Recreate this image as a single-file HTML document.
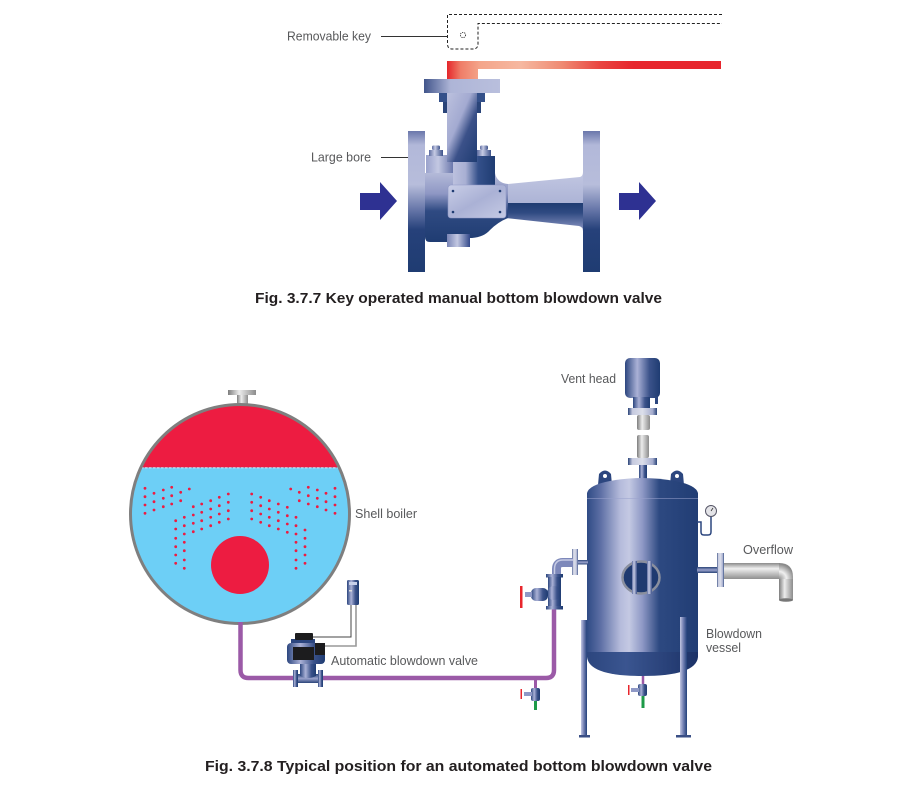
<!DOCTYPE html>
<html><head><meta charset="utf-8">
<style>
html,body{margin:0;padding:0;background:#fff;}
svg{display:block;}
text{font-family:"Liberation Sans",Arial,sans-serif;}
</style></head><body>
<svg width="900" height="787" viewBox="0 0 900 787" xmlns="http://www.w3.org/2000/svg">
<defs>
<linearGradient id="gRed" gradientUnits="userSpaceOnUse" x1="447" y1="0" x2="721" y2="0">
<stop offset="0" stop-color="#e5262b"/><stop offset="0.05" stop-color="#ef7d68"/><stop offset="0.12" stop-color="#f4a58a"/><stop offset="0.27" stop-color="#f6b8a0"/><stop offset="0.42" stop-color="#ef8a72"/><stop offset="0.56" stop-color="#e94440"/><stop offset="0.68" stop-color="#e7262d"/><stop offset="1" stop-color="#e7262d"/>
</linearGradient>
<linearGradient id="gFlange" x1="0" y1="0" x2="0" y2="1">
<stop offset="0" stop-color="#6a77ab"/><stop offset="0.1" stop-color="#b2b8d9"/><stop offset="0.38" stop-color="#b7bddb"/><stop offset="0.55" stop-color="#6a79ab"/><stop offset="0.7" stop-color="#26417a"/><stop offset="1" stop-color="#1f3c72"/>
</linearGradient>
<linearGradient id="gPlateTop" x1="0" y1="0" x2="1" y2="0"><stop offset="0" stop-color="#41558b"/><stop offset="0.35" stop-color="#aeb5d7"/><stop offset="1" stop-color="#b9bfdd"/></linearGradient>
<linearGradient id="gStem" x1="0" y1="0" x2="1" y2="1"><stop offset="0" stop-color="#bcc1de"/><stop offset="0.4" stop-color="#a3aad1"/><stop offset="0.62" stop-color="#3b5189"/><stop offset="1" stop-color="#1f3c72"/></linearGradient>
<linearGradient id="gBonL" x1="0" y1="0" x2="1" y2="0"><stop offset="0" stop-color="#9aa2cc"/><stop offset="0.45" stop-color="#c3c8e2"/><stop offset="1" stop-color="#6b78ac"/></linearGradient>
<linearGradient id="gBonC" x1="0" y1="0" x2="1" y2="0"><stop offset="0" stop-color="#bcc1de"/><stop offset="0.3" stop-color="#a8afd3"/><stop offset="0.6" stop-color="#34508a"/><stop offset="1" stop-color="#1f3c72"/></linearGradient>
<linearGradient id="gBolt" x1="0" y1="0" x2="1" y2="0"><stop offset="0" stop-color="#5d6ca0"/><stop offset="0.4" stop-color="#c6cbe4"/><stop offset="1" stop-color="#3d528a"/></linearGradient>
<linearGradient id="gPlate" x1="0" y1="0" x2="1" y2="1"><stop offset="0" stop-color="#c9cee7"/><stop offset="0.5" stop-color="#aab1d5"/><stop offset="1" stop-color="#c5cae4"/></linearGradient>
<linearGradient id="gBodyV" gradientUnits="userSpaceOnUse" x1="0" y1="173" x2="0" y2="242"><stop offset="0" stop-color="#b4bad9"/><stop offset="0.3" stop-color="#8e97c4"/><stop offset="0.55" stop-color="#2f4a82"/><stop offset="1" stop-color="#1f3c72"/></linearGradient>
<linearGradient id="gOutUp" x1="0" y1="0" x2="0" y2="1"><stop offset="0" stop-color="#c2c7e2"/><stop offset="1" stop-color="#adb4d6"/></linearGradient>
<linearGradient id="gOutLo" x1="0" y1="0" x2="0" y2="1"><stop offset="0" stop-color="#1f3c72"/><stop offset="0.35" stop-color="#2f4a82"/><stop offset="1" stop-color="#8f98c5"/></linearGradient>
<linearGradient id="gBoss" x1="0" y1="0" x2="1" y2="0"><stop offset="0" stop-color="#7884b5"/><stop offset="0.45" stop-color="#c3c8e2"/><stop offset="1" stop-color="#32488a"/></linearGradient>

<linearGradient id="gGrayH" x1="0" y1="0" x2="1" y2="0"><stop offset="0" stop-color="#7d7d7d"/><stop offset="0.4" stop-color="#ececec"/><stop offset="1" stop-color="#8c8c8c"/></linearGradient>
<linearGradient id="gGrayV" x1="0" y1="0" x2="0" y2="1"><stop offset="0" stop-color="#8a8a8a"/><stop offset="0.35" stop-color="#f0f0f0"/><stop offset="1" stop-color="#8f8f8f"/></linearGradient>
<radialGradient id="gGrayR" gradientUnits="userSpaceOnUse" cx="779" cy="579" r="15"><stop offset="0" stop-color="#8f8f8f"/><stop offset="0.5" stop-color="#f0f0f0"/><stop offset="1" stop-color="#8a8a8a"/></radialGradient>
<linearGradient id="gVessel" gradientUnits="userSpaceOnUse" x1="587" y1="0" x2="698" y2="0">
<stop offset="0" stop-color="#2f4b85"/><stop offset="0.12" stop-color="#5c6ea4"/><stop offset="0.3" stop-color="#b5bbdb"/><stop offset="0.38" stop-color="#c4c9e3"/><stop offset="0.5" stop-color="#8e98c5"/><stop offset="0.65" stop-color="#2d4981"/><stop offset="1" stop-color="#213d74"/>
</linearGradient>
<linearGradient id="gNavyH" x1="0" y1="0" x2="1" y2="0"><stop offset="0" stop-color="#2c467f"/><stop offset="0.35" stop-color="#aab1d6"/><stop offset="0.7" stop-color="#3b528a"/><stop offset="1" stop-color="#1f3c72"/></linearGradient>
<linearGradient id="gFlg2" x1="0" y1="0" x2="1" y2="0"><stop offset="0" stop-color="#2a4478"/><stop offset="0.15" stop-color="#c5c9df"/><stop offset="0.5" stop-color="#dcdfea"/><stop offset="0.85" stop-color="#a5acce"/><stop offset="1" stop-color="#2a4478"/></linearGradient>
<linearGradient id="gFlgV" x1="0" y1="0" x2="0" y2="1"><stop offset="0" stop-color="#2a4478"/><stop offset="0.2" stop-color="#c5c9df"/><stop offset="0.5" stop-color="#dcdfea"/><stop offset="0.8" stop-color="#a5acce"/><stop offset="1" stop-color="#2a4478"/></linearGradient>
<linearGradient id="gNavyV" x1="0" y1="0" x2="0" y2="1"><stop offset="0" stop-color="#2a4478"/><stop offset="0.5" stop-color="#9aa2cc"/><stop offset="1" stop-color="#2a4478"/></linearGradient>
<linearGradient id="gLeg" x1="0" y1="0" x2="1" y2="0"><stop offset="0" stop-color="#c2c7e2"/><stop offset="0.45" stop-color="#7683b5"/><stop offset="1" stop-color="#22407a"/></linearGradient>
<linearGradient id="gHead" x1="0" y1="0" x2="1" y2="0"><stop offset="0" stop-color="#2c467e"/><stop offset="0.35" stop-color="#3a5590"/><stop offset="1" stop-color="#1c3267"/></linearGradient>
<clipPath id="cBoil"><circle cx="240" cy="514" r="109.5"/></clipPath>
</defs>
<rect width="900" height="787" fill="#fff"/>

<!-- ===== Fig 3.7.7 ===== -->
<path d="M722,14.5 H447.5 V44 Q447.5,49 452.5,49 H473 Q478,49 478,44 V23.5 H722" fill="none" stroke="#222" stroke-width="1" stroke-dasharray="3 2"/>
<circle cx="463" cy="35" r="2.6" fill="none" stroke="#333" stroke-width="0.9" stroke-dasharray="1.2 1"/>
<line x1="381" y1="36.5" x2="447" y2="36.5" stroke="#333" stroke-width="1"/>
<text x="287" y="40.5" font-size="12.5" fill="#58595b" textLength="84" lengthAdjust="spacingAndGlyphs">Removable key</text>

<path d="M447,61 H721 V69 H478 V80 H447 Z" fill="url(#gRed)"/>

<!-- valve body -->
<path d="M500,185 L508,184 L580,177 Q583,176 583,172 L583,203 L500,203 Z" fill="url(#gOutUp)"/>
<path d="M500,203 L583,203 L583,231 Q583,227 579,226 L506,218 L500,218 Z" fill="url(#gOutLo)"/>
<path d="M425,173 L495,173 Q497,183 508,184 L508,218 Q498,222 490,230 Q484,237 472,238 L470,238 L470,242 L430,242 Q425,242 425,237 Z" fill="url(#gBodyV)"/>
<rect x="447" y="234" width="23" height="13" fill="url(#gBoss)"/>
<rect x="426" y="155" width="27" height="18" fill="url(#gBonL)"/>
<rect x="453" y="156" width="42" height="29" fill="url(#gBonC)"/>
<rect x="439" y="93" width="8" height="9" fill="#34508a"/>
<rect x="477" y="93" width="8" height="9" fill="#34508a"/>
<rect x="443" y="102" width="4" height="11" fill="#2a4479"/>
<rect x="477" y="102" width="4" height="11" fill="#2a4479"/>
<rect x="447" y="93" width="30" height="69" fill="url(#gStem)"/>
<rect x="424" y="79" width="76" height="14" fill="url(#gPlateTop)"/>
<rect x="432" y="145.5" width="8" height="4.5" rx="1.5" fill="url(#gBolt)"/>
<rect x="429" y="150" width="14" height="6" fill="url(#gBolt)"/>
<rect x="480" y="145.5" width="8" height="4.5" rx="1.5" fill="url(#gBolt)"/>
<rect x="477" y="150" width="14" height="6" fill="url(#gBolt)"/>
<rect x="448" y="185" width="58" height="33" rx="3" fill="url(#gPlate)" stroke="#8f98c5" stroke-width="0.6"/>
<g fill="#1f3c72"><circle cx="453" cy="191" r="1.3"/><circle cx="500" cy="191" r="1.3"/><circle cx="453" cy="212" r="1.3"/><circle cx="500" cy="212" r="1.3"/></g>
<rect x="408" y="131" width="17" height="141" fill="url(#gFlange)"/>
<rect x="583" y="131" width="17" height="141" fill="url(#gFlange)"/>

<line x1="381" y1="157.5" x2="408" y2="157.5" stroke="#333" stroke-width="1"/>
<text x="311" y="161.5" font-size="12.5" fill="#58595b" textLength="60" lengthAdjust="spacingAndGlyphs">Large bore</text>

<polygon points="360,193 380,193 380,182 397,201 380,220 380,210 360,210" fill="#2e3192"/>
<polygon points="619,193 639,193 639,182 656,201 639,220 639,210 619,210" fill="#2e3192"/>

<text x="255" y="303" font-size="15" font-weight="bold" fill="#231f20" textLength="407" lengthAdjust="spacingAndGlyphs">Fig. 3.7.7 Key operated manual bottom blowdown valve</text>

<!-- ===== Fig 3.7.8 ===== -->
<!-- boiler -->
<rect x="237" y="395" width="11" height="11" fill="url(#gGrayH)"/>
<rect x="228" y="390" width="28" height="5" fill="url(#gGrayH)"/>
<circle cx="240" cy="514" r="109.5" fill="#6dcff6"/>
<rect x="120" y="395" width="240" height="72.5" fill="#ed1c41" clip-path="url(#cBoil)"/>
<line x1="141" y1="467.8" x2="339" y2="467.8" stroke="#c4ebfb" stroke-width="1.2" stroke-dasharray="2.5 1.5"/>
<circle cx="240" cy="565" r="29" fill="#ed1c41"/>
<g fill="#ed1c41">
<circle cx="145" cy="488.3" r="1.4"/><circle cx="145" cy="496.7" r="1.4"/><circle cx="145" cy="505" r="1.4"/><circle cx="145" cy="513.3" r="1.4"/>
<circle cx="154" cy="493.3" r="1.4"/><circle cx="154" cy="501.7" r="1.4"/><circle cx="154" cy="510" r="1.4"/>
<circle cx="163.3" cy="490" r="1.4"/><circle cx="163.3" cy="498.3" r="1.4"/><circle cx="163.3" cy="506.7" r="1.4"/>
<circle cx="171.7" cy="487.3" r="1.4"/><circle cx="171.7" cy="495.7" r="1.4"/><circle cx="171.7" cy="504" r="1.4"/>
<circle cx="180.7" cy="492.3" r="1.4"/><circle cx="180.7" cy="500.7" r="1.4"/>
<circle cx="189.3" cy="489" r="1.4"/>
<circle cx="175.7" cy="520.7" r="1.4"/><circle cx="175.7" cy="529" r="1.4"/><circle cx="175.7" cy="538.3" r="1.4"/><circle cx="175.7" cy="546.7" r="1.4"/><circle cx="175.7" cy="555" r="1.4"/><circle cx="175.7" cy="563.3" r="1.4"/>
<circle cx="184.3" cy="517.3" r="1.4"/><circle cx="184.3" cy="525.7" r="1.4"/><circle cx="184.3" cy="534" r="1.4"/><circle cx="184.3" cy="542.3" r="1.4"/><circle cx="184.3" cy="550.7" r="1.4"/><circle cx="184.3" cy="560" r="1.4"/><circle cx="184.3" cy="568.3" r="1.4"/>
<circle cx="193.3" cy="506.7" r="1.4"/><circle cx="193.3" cy="515" r="1.4"/><circle cx="193.3" cy="523.3" r="1.4"/><circle cx="193.3" cy="531.7" r="1.4"/>
<circle cx="201.7" cy="504" r="1.4"/><circle cx="201.7" cy="512.3" r="1.4"/><circle cx="201.7" cy="520.7" r="1.4"/><circle cx="201.7" cy="529" r="1.4"/>
<circle cx="210.7" cy="500.7" r="1.4"/><circle cx="210.7" cy="509" r="1.4"/><circle cx="210.7" cy="517.3" r="1.4"/><circle cx="210.7" cy="525.7" r="1.4"/>
<circle cx="219.3" cy="497.3" r="1.4"/><circle cx="219.3" cy="505.7" r="1.4"/><circle cx="219.3" cy="514" r="1.4"/><circle cx="219.3" cy="522.3" r="1.4"/>
<circle cx="228.3" cy="494" r="1.4"/><circle cx="228.3" cy="502.3" r="1.4"/><circle cx="228.3" cy="510.7" r="1.4"/><circle cx="228.3" cy="519" r="1.4"/>
<circle cx="251.7" cy="494" r="1.4"/><circle cx="251.7" cy="502.3" r="1.4"/><circle cx="251.7" cy="510.7" r="1.4"/><circle cx="251.7" cy="519" r="1.4"/>
<circle cx="260.7" cy="497.3" r="1.4"/><circle cx="260.7" cy="505.7" r="1.4"/><circle cx="260.7" cy="514" r="1.4"/><circle cx="260.7" cy="522.3" r="1.4"/>
<circle cx="269.3" cy="500.7" r="1.4"/><circle cx="269.3" cy="509" r="1.4"/><circle cx="269.3" cy="517.3" r="1.4"/><circle cx="269.3" cy="525.7" r="1.4"/>
<circle cx="278.3" cy="504" r="1.4"/><circle cx="278.3" cy="512.3" r="1.4"/><circle cx="278.3" cy="520.7" r="1.4"/><circle cx="278.3" cy="529" r="1.4"/>
<circle cx="287.3" cy="507.3" r="1.4"/><circle cx="287.3" cy="515.7" r="1.4"/><circle cx="287.3" cy="524" r="1.4"/><circle cx="287.3" cy="532.3" r="1.4"/>
<circle cx="296" cy="517.3" r="1.4"/><circle cx="296" cy="525.7" r="1.4"/><circle cx="296" cy="534" r="1.4"/><circle cx="296" cy="542.3" r="1.4"/><circle cx="296" cy="550.7" r="1.4"/><circle cx="296" cy="560" r="1.4"/><circle cx="296" cy="568.3" r="1.4"/>
<circle cx="305" cy="530" r="1.4"/><circle cx="305" cy="538.3" r="1.4"/><circle cx="305" cy="546.7" r="1.4"/><circle cx="305" cy="555" r="1.4"/><circle cx="305" cy="563.3" r="1.4"/>
<circle cx="290.7" cy="489" r="1.4"/>
<circle cx="299.3" cy="492.3" r="1.4"/><circle cx="299.3" cy="500.7" r="1.4"/>
<circle cx="308.3" cy="487.3" r="1.4"/><circle cx="308.3" cy="495.7" r="1.4"/><circle cx="308.3" cy="504" r="1.4"/>
<circle cx="317.3" cy="490" r="1.4"/><circle cx="317.3" cy="498.3" r="1.4"/><circle cx="317.3" cy="506.7" r="1.4"/>
<circle cx="326" cy="493.3" r="1.4"/><circle cx="326" cy="501.7" r="1.4"/><circle cx="326" cy="510" r="1.4"/>
<circle cx="335" cy="488.3" r="1.4"/><circle cx="335" cy="496.7" r="1.4"/><circle cx="335" cy="505" r="1.4"/><circle cx="335" cy="513.3" r="1.4"/>
</g>
<circle cx="240" cy="514" r="109.5" fill="none" stroke="#7f7f7f" stroke-width="3"/>
<text x="355" y="518" font-size="12.5" fill="#58595b" textLength="62" lengthAdjust="spacingAndGlyphs">Shell boiler</text>

<!-- purple pipe -->
<path d="M240.5,622 V670 Q240.5,678 248.5,678 H546 Q554,678 554,670 V608" fill="none" stroke="#9b5aa7" stroke-width="4.5"/>
<line x1="535.5" y1="680" x2="535.5" y2="690" stroke="#9b5aa7" stroke-width="3"/>

<!-- automatic valve -->
<path d="M351,605 V637 H313" stroke="#444" stroke-width="1" fill="none"/>
<path d="M356,605 V646 H325" stroke="#999" stroke-width="1.6" fill="none"/>
<rect x="347" y="580" width="12" height="25" rx="1.5" fill="url(#gNavyH)"/>
<rect x="349" y="582" width="8" height="3" fill="#c8d0ea"/>
<rect x="349" y="590" width="3" height="1.5" fill="#ddd"/>
<rect x="293" y="670" width="5" height="17" fill="url(#gNavyH)"/>
<rect x="318" y="670" width="5" height="17" fill="url(#gNavyH)"/>
<rect x="298" y="674" width="20" height="9" fill="url(#gNavyV)"/>
<path d="M300,663 H316 V676 Q308,680 300,676 Z" fill="url(#gNavyH)"/>
<rect x="287" y="643" width="38" height="21" rx="4" fill="url(#gNavyH)"/>
<rect x="293" y="647" width="21" height="13" fill="#1c1c1e"/>
<rect x="315" y="643" width="10" height="12" fill="#1c1c1e"/>
<rect x="291" y="639" width="24" height="4" fill="#2c467f"/>
<rect x="295" y="633" width="18" height="7" rx="1" fill="#1c1c1e"/>
<text x="331" y="665" font-size="12.5" fill="#58595b" textLength="147" lengthAdjust="spacingAndGlyphs">Automatic blowdown valve</text>

<!-- drain valve on pipe -->
<rect x="531" y="688" width="9" height="13" rx="2" fill="url(#gNavyH)"/>
<rect x="524" y="692" width="8" height="4" fill="#8f99c6"/>
<rect x="520.5" y="689" width="1.5" height="10" fill="#e8262c"/>
<line x1="535.5" y1="701" x2="535.5" y2="710" stroke="#1d9a48" stroke-width="3"/>

<!-- vent head -->
<rect x="625" y="358" width="35" height="40" rx="5" fill="url(#gNavyH)"/>
<rect x="633" y="397" width="17" height="11" fill="url(#gNavyH)"/>
<rect x="655" y="397" width="3" height="7" fill="#2c467f"/>
<rect x="628" y="408" width="29" height="7" fill="url(#gFlg2)"/>
<rect x="637" y="415" width="13" height="15" rx="2" fill="url(#gGrayH)"/>
<rect x="637" y="435" width="12" height="23" rx="2" fill="url(#gGrayH)"/>
<rect x="628" y="458" width="29" height="7" fill="url(#gFlg2)"/>
<rect x="639" y="465" width="8" height="16" fill="url(#gNavyH)"/>
<text x="561" y="383" font-size="12.5" fill="#58595b" textLength="55" lengthAdjust="spacingAndGlyphs">Vent head</text>

<!-- lugs -->
<path d="M598,485 L599,474 Q605,467 611,474 L612,485 Z" fill="#2c467f"/>
<circle cx="605" cy="476" r="2" fill="#fff"/>
<path d="M670,485 L671,474 Q677,467 683,474 L684,485 Z" fill="#2c467f"/>
<circle cx="677" cy="476" r="2" fill="#fff"/>

<!-- vessel -->
<path d="M587,499 V493 Q589,485 610,481 Q642,475 675,481 Q696,485 698,493 V499 Z" fill="url(#gVessel)"/>
<rect x="587" y="498" width="111" height="155" fill="url(#gVessel)"/>
<line x1="587" y1="498.5" x2="698" y2="498.5" stroke="#9aa2cc" stroke-width="0.8" opacity="0.7"/>
<path d="M587,652 H698 V657 Q696,676 642,676 Q589,676 587,657 Z" fill="url(#gHead)"/>

<!-- manhole -->
<ellipse cx="641" cy="577.5" rx="18.5" ry="16" fill="#1f3a70" stroke="#8a8f9e" stroke-width="2.5"/>
<rect x="632" y="561" width="5" height="33" fill="url(#gBolt)"/>
<rect x="647" y="561" width="5" height="33" fill="url(#gBolt)"/>

<!-- gauge -->
<path d="M697,522 H701 V532 Q701,535 704,535 H708 Q711,535 711,532 V516" fill="none" stroke="#2c467f" stroke-width="1.5"/>
<circle cx="711" cy="511" r="5.5" fill="#e4e4e8" stroke="#556" stroke-width="1"/>
<line x1="711" y1="511" x2="713" y2="508" stroke="#333" stroke-width="0.8"/>

<!-- overflow -->
<rect x="697" y="567" width="21" height="6" fill="url(#gNavyV)"/>
<rect x="717" y="553" width="7" height="34" fill="url(#gFlg2)"/>
<rect x="724" y="563" width="56" height="16" fill="url(#gGrayV)"/>
<path d="M779,563 Q793,563 793,577 L793,580 L779,580 L779,579 L779,563 Z" fill="url(#gGrayR)"/>
<rect x="779" y="579" width="14" height="21" fill="url(#gGrayH)"/>
<ellipse cx="786" cy="600" rx="7" ry="1.8" fill="#777"/>
<text x="743" y="554" font-size="12.5" fill="#58595b" textLength="50" lengthAdjust="spacingAndGlyphs">Overflow</text>

<!-- inlet & globe valve -->
<rect x="577" y="560" width="11" height="4.5" fill="url(#gNavyV)"/>
<rect x="572" y="549" width="6" height="26" fill="url(#gFlg2)"/>
<path d="M573,562.5 H563 Q556.5,562.5 556.5,569 V575" stroke="#7d88ba" stroke-width="9" fill="none"/>
<path d="M573,560 H563 Q554.5,560 554.5,569 V575" stroke="#c6cbe4" stroke-width="1.5" fill="none"/>
<rect x="546" y="574" width="17" height="3.5" fill="url(#gNavyH)"/>
<rect x="548" y="577" width="13" height="30" fill="url(#gNavyH)"/>
<circle cx="554" cy="593" r="7" fill="url(#gNavyH)"/>
<rect x="531" y="588" width="17" height="13" rx="5" fill="url(#gNavyH)"/>
<rect x="525" y="592" width="7" height="5" fill="#8f99c6"/>
<rect x="520" y="586" width="2.5" height="22" fill="#e8262c"/>
<rect x="546" y="606" width="17" height="3.5" fill="url(#gNavyH)"/>

<!-- legs -->
<rect x="581" y="620" width="6" height="116" fill="url(#gLeg)"/>
<rect x="579" y="735" width="11" height="2.5" fill="#3a4f86"/>
<rect x="680" y="617" width="7" height="119" fill="url(#gLeg)"/>
<rect x="676" y="735" width="15" height="2.5" fill="#3a4f86"/>

<!-- vessel drain -->
<line x1="643" y1="676" x2="643" y2="685" stroke="#9b5aa7" stroke-width="2.5"/>
<rect x="638" y="684" width="9" height="12" rx="2" fill="url(#gNavyH)"/>
<rect x="631" y="688" width="8" height="4" fill="#8f99c6"/>
<rect x="628" y="685" width="1.5" height="10" fill="#e8262c"/>
<line x1="643" y1="696" x2="643" y2="708" stroke="#1d9a48" stroke-width="3"/>

<text x="706" y="638" font-size="12.5" fill="#58595b" textLength="56" lengthAdjust="spacingAndGlyphs">Blowdown</text>
<text x="706" y="652" font-size="12.5" fill="#58595b" textLength="35" lengthAdjust="spacingAndGlyphs">vessel</text>

<text x="205" y="771" font-size="15" font-weight="bold" fill="#231f20" textLength="507" lengthAdjust="spacingAndGlyphs">Fig. 3.7.8 Typical position for an automated bottom blowdown valve</text>
</svg>
</body></html>
